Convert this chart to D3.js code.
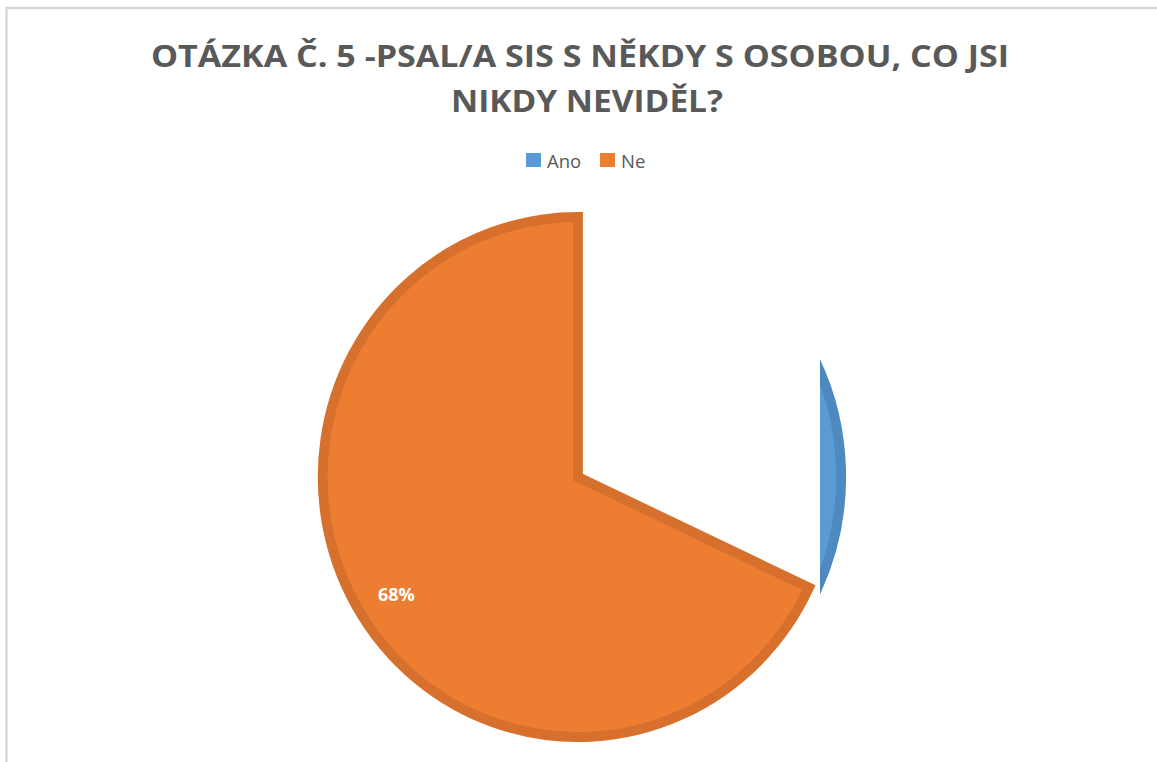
<!DOCTYPE html>
<html>
<head>
<meta charset="utf-8">
<script src="https://cdn.jsdelivr.net/npm/d3@7"></script>
<style>
  body { margin: 0; background: #fff; }
  svg { display: block; }
</style>
</head>
<body>
<svg width="1157" height="762"></svg>
<script>
// data
var categories = ["Ano", "Ne"];
var values = [32, 68];
var colors = ["#5B9BD5", "#ED7D31"];
var strokes = ["#4E89C0", "#D6702C"];
var titleLines = ["OTÁZKA Č. 5 -PSAL/A SIS S NĚKDY S OSOBOU, CO JSI", "NIKDY NEVIDĚL?"];

// layout
var cx = 578, cy = 477;
var r = 265, band = 10, sx = 0.982;
var font = "'Open Sans', 'DejaVu Sans', sans-serif";

var svg = d3.select("svg");

// chart frame
svg.append("rect")
    .attr("x", 6.5).attr("y", 8)
    .attr("width", 1200).attr("height", 800)
    .attr("fill", "none")
    .attr("stroke", "#d9d9d9")
    .attr("stroke-width", 2.5);

// title
svg.append("text")
    .attr("x", 580).attr("y", 67)
    .attr("text-anchor", "middle")
    .attr("font-family", font).attr("font-weight", 700)
    .attr("font-size", 29.5)
    .attr("fill", "#595959")
    .attr("textLength", 858).attr("lengthAdjust", "spacingAndGlyphs")
    .text(titleLines[0]);
svg.append("text")
    .attr("x", 587).attr("y", 112)
    .attr("text-anchor", "middle")
    .attr("font-family", font).attr("font-weight", 700)
    .attr("font-size", 29.5)
    .attr("fill", "#595959")
    .attr("textLength", 272).attr("lengthAdjust", "spacingAndGlyphs")
    .text(titleLines[1]);

// legend
var legX = [526, 600];
var leg = svg.selectAll("g.leg").data(categories).enter().append("g")
    .attr("class", "leg")
    .attr("transform", function(d, i) { return "translate(" + legX[i] + ",153)"; });
leg.append("rect")
    .attr("width", 15).attr("height", 14)
    .attr("fill", function(d, i) { return colors[i]; });
leg.append("text")
    .attr("x", 21).attr("y", 15)
    .attr("font-family", font).attr("font-size", 18.5)
    .attr("fill", "#595959")
    .text(function(d) { return d; });

// pie
var pie = d3.pie().sort(null).value(function(d) { return d; });
var arcs = pie(values);

var g = svg.append("g").attr("transform", "translate(" + cx + "," + cy + ") scale(" + sx + ",1)");

svg.append("clipPath").attr("id", "clipAno")
  .append("rect")
    .attr("x", (820 - cx) / sx).attr("y", -400)
    .attr("width", 400).attr("height", 800);

var arcNe = d3.arc().innerRadius(0).outerRadius(r - band / 2);
var arcAno = d3.arc().innerRadius(0).outerRadius(r + 8 - band / 2);
var labelArc = d3.arc().innerRadius(219).outerRadius(219);

g.append("path")
    .datum(arcs[0])
    .attr("clip-path", "url(#clipAno)")
    .attr("d", arcAno)
    .attr("fill", colors[0])
    .attr("stroke", strokes[0])
    .attr("stroke-width", band);

g.append("path")
    .datum(arcs[1])
    .attr("d", arcNe)
    .attr("fill", colors[1])
    .attr("stroke", strokes[1])
    .attr("stroke-width", band)
    .attr("stroke-linejoin", "miter");

// label for the visible slice
svg.append("text")
    .datum(arcs[1])
    .attr("transform", function(d) {
        var c = labelArc.centroid(d);
        return "translate(" + (cx + c[0] * sx) + "," + (cy + c[1]) + ")";
    })
    .attr("text-anchor", "middle")
    .attr("dy", "0.35em")
    .attr("font-family", font).attr("font-weight", 700)
    .attr("font-size", 18)
    .attr("fill", "#ffffff")
    .text(function(d) { return Math.round(d.data) + "%"; });
</script>
</body>
</html>
